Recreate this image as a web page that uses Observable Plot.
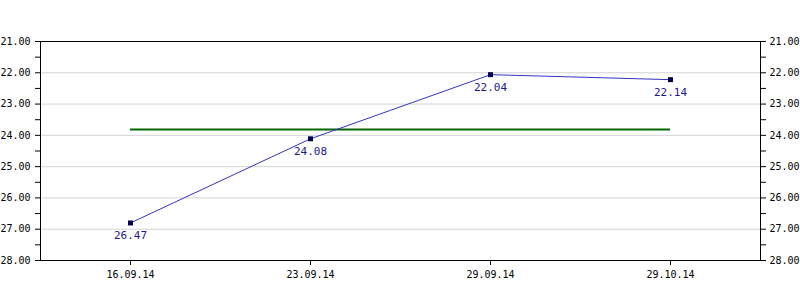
<!DOCTYPE html>
<html>
<head>
<meta charset="utf-8">
<script src="https://cdn.jsdelivr.net/npm/d3@7"></script>
<script src="https://cdn.jsdelivr.net/npm/@observablehq/plot@0.6"></script>
<style>
  html, body { margin: 0; padding: 0; background: #fff; }
</style>
</head>
<body>
<div id="chart"></div>
<script>
const dates = ["16.09.14", "23.09.14", "29.09.14", "29.10.14"];
const values = [26.80, 24.11, 22.06, 22.22];
const valueLabels = ["26.47", "24.08", "22.04", "22.14"];
const averageValue = 23.81;
const yTicks = [21, 22, 23, 24, 25, 26, 27, 28];
const yMinorTicks = [21, 21.5, 22, 22.5, 23, 23.5, 24, 24.5, 25, 25.5, 26, 26.5, 27, 27.5, 28];

const data = dates.map((d, i) => ({date: d, value: values[i], label: valueLabels[i]}));
const avg = [{y: averageValue, x1: dates[0], x2: dates[dates.length - 1]}];
const fmt = d => Number.isInteger(d) ? d.toFixed(2) : "";

const chart = Plot.plot({
  width: 800,
  height: 300,
  marginTop: 41,
  marginBottom: 40,
  marginLeft: 40,
  marginRight: 40,
  style: {fontFamily: "'DejaVu Sans Mono', monospace", fontSize: "10px", background: "#fff", color: "#000"},
  x: {type: "point", domain: dates, padding: 0.5, label: null},
  y: {domain: [21, 28], reverse: true, label: null},
  marks: [
    Plot.gridY(yTicks, {stroke: "#d4d4d4", strokeOpacity: 1}),
    Plot.axisY({anchor: "left", ticks: yMinorTicks, tickFormat: fmt, tickSize: 5, tickPadding: 5, label: null}),
    Plot.axisY({anchor: "right", ticks: yMinorTicks, tickFormat: fmt, tickSize: 5, tickPadding: 4, label: null}),
    Plot.axisX({anchor: "bottom", tickSize: 5, tickPadding: 5, label: null}),
    Plot.ruleY(avg, {y: "y", x1: "x1", x2: "x2", stroke: "#006400", strokeWidth: 2}),
    Plot.line(data, {x: "date", y: "value", stroke: "#3434c4", strokeWidth: 1}),
    Plot.dot(data, {x: "date", y: "value", symbol: "square", r: 2.8, fill: "#000050", stroke: null}),
    Plot.text(data, {x: "date", y: "value", text: "label", dy: 13, fill: "#1a1a8c", fontSize: 11}),
    Plot.frame({stroke: "#000", strokeWidth: 1})
  ]
});
document.getElementById("chart").appendChild(chart);
</script>
</body>
</html>
